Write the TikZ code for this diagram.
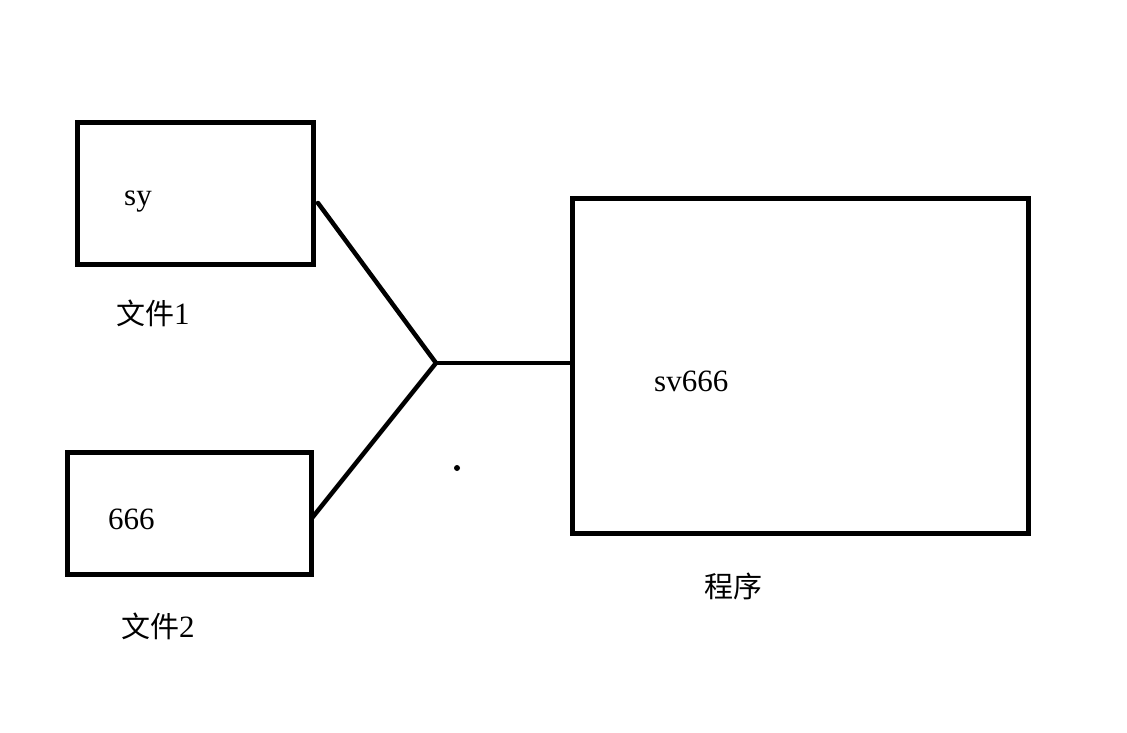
\documentclass[tikz,border=0pt]{standalone}
\usepackage{fontspec}
\setmainfont{Liberation Serif}
\newfontfamily\cjk{Noto Sans CJK SC}
\begin{document}
\begin{tikzpicture}[x=1pt,y=-1pt,
  box/.style={draw,line width=5pt},
  wire/.style={draw,line width=4.5pt,line cap=round},
  lbl/.style={anchor=base west,inner sep=0pt,font=\fontsize{31}{34}\selectfont},
  clbl/.style={anchor=base west,inner sep=0pt,font=\fontsize{29}{32}\selectfont}]
\useasboundingbox (0,0) rectangle (1127,732);
\draw[box] (77,122) rectangle (313,264);
\draw[box] (67,452) rectangle (311,574);
\draw[box] (572,198) rectangle (1028,533);
\coordinate (j) at (436,363);
\coordinate (a) at (318,203);
\coordinate (b) at (312,518);
\coordinate (c) at (572,363);
\draw[wire] (a) -- (j) -- (b);
\draw[wire,line cap=butt] (j) -- (c);
\fill (457,468) circle (3);
\node[lbl] (t1) at (124,205) {sy};
\node[clbl] (t2) at (116,324) {{\cjk 文件}\fontsize{31}{34}\selectfont 1};
\node[lbl] (t3) at (108,529) {666};
\node[clbl] (t4) at (121,637) {{\cjk 文件}\fontsize{31}{34}\selectfont 2};
\node[lbl] (t5) at (654,391) {sv666};
\node[clbl] (t6) at (704,597) {\cjk 程序};
\end{tikzpicture}
\end{document}
